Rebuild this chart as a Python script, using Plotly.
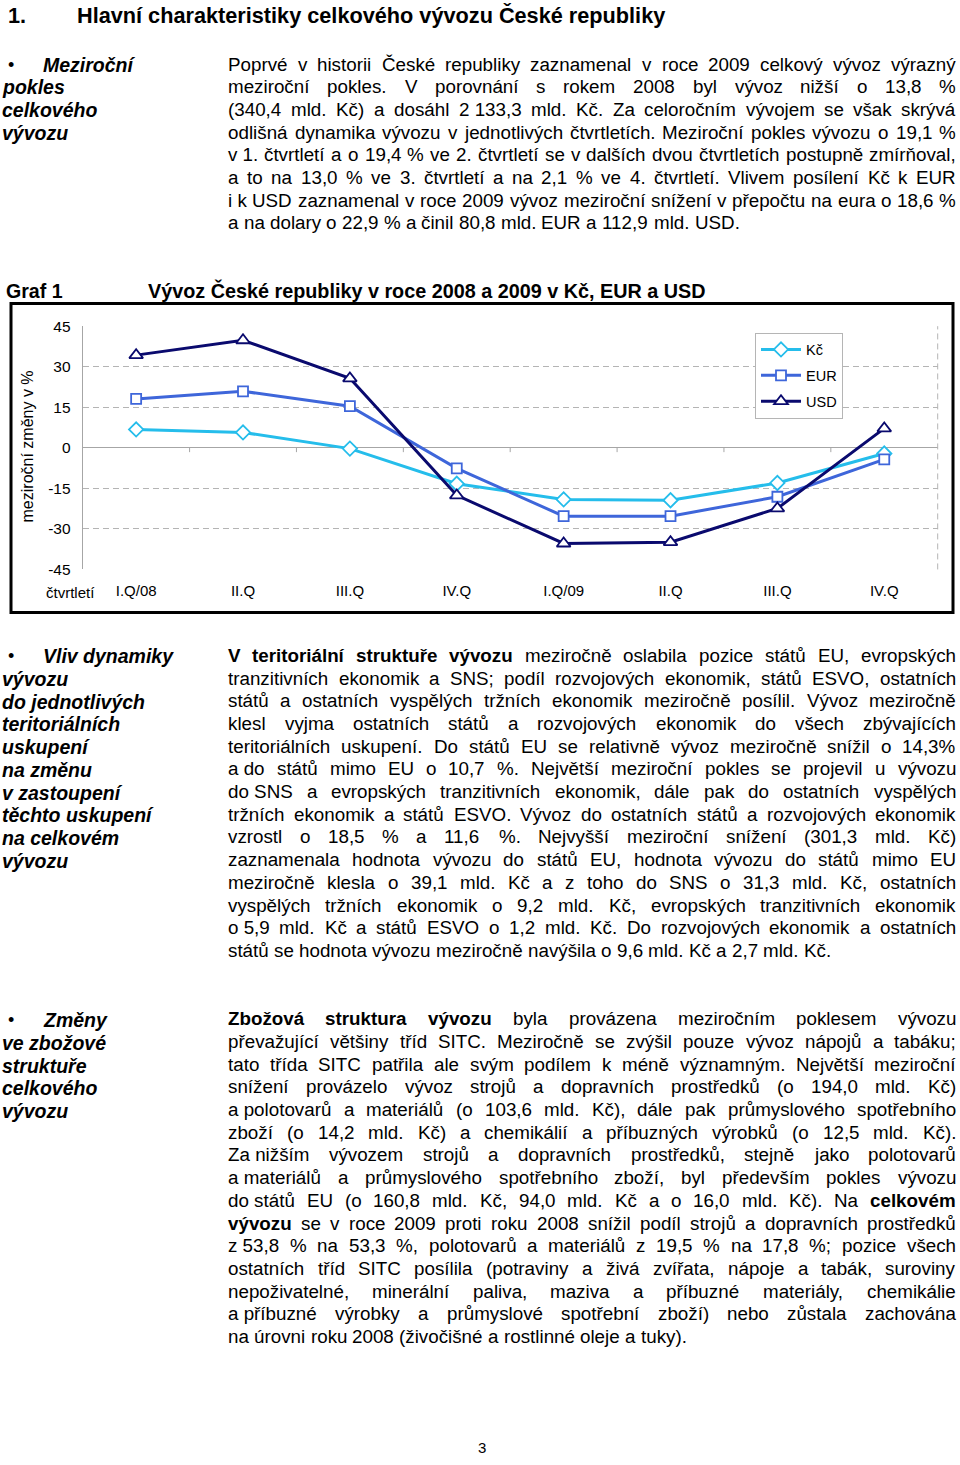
import plotly.graph_objects as go

# ---------------- chart data ----------------
quarters = ["I.Q/08", "II.Q", "III.Q", "IV.Q", "I.Q/09", "II.Q", "III.Q", "IV.Q"]
kc_change = [6.8, 5.7, -0.3, -13.3, -19.1, -19.4, -13.0, -2.1]
eur_change = [18.1, 20.9, 15.4, -7.6, -25.3, -25.3, -18.1, -4.3]
usd_change = [34.3, 39.8, 25.7, -17.6, -35.4, -34.9, -22.4, 7.2]
series_names = ["Kč", "EUR", "USD"]
y_ticks = [-45, -30, -15, 0, 15, 30, 45]
y_tick_labels = ["-45", "-30", "-15", "0", "15", "30", "45"]

# ---------------- page text ----------------
heading_num = "1."
heading_text = "Hlavní charakteristiky celkového vývozu České republiky"
chart_label = "Graf 1"
chart_title = "Vývoz České republiky v roce 2008 a 2009 v Kč, EUR a USD"
y_title = "meziroční změny v %"
x_title = "čtvrtletí"
page_number = "3"

NB = "\u00a0"
side1 = ["Meziroční", "pokles", "celkového", "vývozu"]
para1 = [
    "Poprvé v historii České republiky zaznamenal v roce 2009 celkový vývoz výrazný",
    "meziroční pokles. V porovnání s rokem 2008 byl vývoz nižší o 13,8 %",
    "(340,4 mld. Kč) a dosáhl 2" + NB + "133,3 mld. Kč. Za celoročním vývojem se však skrývá",
    "odlišná dynamika vývozu v jednotlivých čtvrtletích. Meziroční pokles vývozu o 19,1 %",
    "v" + NB + "1. čtvrtletí a o 19,4 % ve 2. čtvrtletí se v dalších dvou čtvrtletích postupně zmírňoval,",
    "a to na 13,0 % ve 3. čtvrtletí a na 2,1 % ve 4. čtvrtletí. Vlivem posílení Kč k EUR",
    "i" + NB + "k USD zaznamenal v roce 2009 vývoz meziroční snížení v přepočtu na eura o 18,6 %",
    "a na dolary o 22,9 % a činil 80,8 mld. EUR a 112,9 mld. USD.",
]
side2 = ["Vliv dynamiky", "vývozu", "do jednotlivých", "teritoriálních", "uskupení",
         "na změnu", "v zastoupení", "těchto uskupení", "na celkovém", "vývozu"]
para2 = [
    "**V teritoriální struktuře vývozu** meziročně oslabila pozice států EU, evropských",
    "tranzitivních ekonomik a SNS; podíl rozvojových ekonomik, států ESVO, ostatních",
    "států a ostatních vyspělých tržních ekonomik meziročně posílil. Vývoz meziročně",
    "klesl vyjma ostatních států a rozvojových ekonomik do všech zbývajících",
    "teritoriálních uskupení. Do států EU se relativně vývoz meziročně snížil o 14,3%",
    "a" + NB + "do států mimo EU o 10,7 %. Největší meziroční pokles se projevil u vývozu",
    "do" + NB + "SNS a evropských tranzitivních ekonomik, dále pak do ostatních vyspělých",
    "tržních ekonomik a států ESVO. Vývoz do ostatních států a rozvojových ekonomik",
    "vzrostl o 18,5 % a 11,6 %. Nejvyšší meziroční snížení (301,3 mld. Kč)",
    "zaznamenala hodnota vývozu do států EU, hodnota vývozu do států mimo EU",
    "meziročně klesla o 39,1 mld. Kč a z toho do SNS o 31,3 mld. Kč, ostatních",
    "vyspělých tržních ekonomik o 9,2 mld. Kč, evropských tranzitivních ekonomik",
    "o" + NB + "5,9 mld. Kč a států ESVO o 1,2 mld. Kč. Do rozvojových ekonomik a ostatních",
    "států se hodnota vývozu meziročně navýšila o 9,6 mld. Kč a 2,7 mld. Kč.",
]
side3 = ["Změny", "ve zbožové", "struktuře", "celkového", "vývozu"]
para3 = [
    "**Zbožová struktura vývozu** byla provázena meziročním poklesem vývozu",
    "převažující většiny tříd SITC. Meziročně se zvýšil pouze vývoz nápojů a tabáku;",
    "tato třída SITC patřila ale svým podílem k méně významným. Největší meziroční",
    "snížení provázelo vývoz strojů a dopravních prostředků (o 194,0 mld. Kč)",
    "a" + NB + "polotovarů a materiálů (o 103,6 mld. Kč), dále pak průmyslového spotřebního",
    "zboží (o 14,2 mld. Kč) a chemikálií a příbuzných výrobků (o 12,5 mld. Kč).",
    "Za" + NB + "nižším vývozem strojů a dopravních prostředků, stejně jako polotovarů",
    "a" + NB + "materiálů a průmyslového spotřebního zboží, byl především pokles vývozu",
    "do" + NB + "států EU (o 160,8 mld. Kč, 94,0 mld. Kč a o 16,0 mld. Kč). Na **celkovém**",
    "**vývozu** se v roce 2009 proti roku 2008 snížil podíl strojů a dopravních prostředků",
    "z" + NB + "53,8 % na 53,3 %, polotovarů a materiálů z 19,5 % na 17,8 %; pozice všech",
    "ostatních tříd SITC posílila (potraviny a živá zvířata, nápoje a tabák, suroviny",
    "nepoživatelné, minerální paliva, maziva a příbuzné materiály, chemikálie",
    "a" + NB + "příbuzné výrobky a průmyslové spotřební zboží) nebo zůstala zachována",
    "na úrovni roku 2008 (živočišné a rostlinné oleje a tuky).",
]

# ---------------- helpers ----------------
W, H = 960, 1465
# vertical calibration of the captured page (measured empirically)
V_OFF, V_SCALE = 8.4, 0.9887
FONT = "Liberation Sans, Arial, Helvetica, sans-serif"


def X(px):
    return px / W


def Y(py):
    return 1 - ((py - V_OFF) / V_SCALE) / H


REG = {' ': 278, NB: 278, '%': 889, '(': 333, ')': 333, ',': 278, '-': 333, '.': 278,
       '/': 278, ':': 278, ';': 278,
       'A': 667, 'B': 667, 'C': 722, 'D': 722, 'E': 667, 'F': 611, 'G': 778, 'H': 722,
       'I': 278, 'J': 500, 'K': 667, 'L': 556, 'M': 833, 'N': 722, 'O': 778, 'P': 667,
       'Q': 778, 'R': 722, 'S': 667, 'T': 611, 'U': 722, 'V': 667, 'W': 944, 'X': 667,
       'Y': 667, 'Z': 611,
       'a': 556, 'b': 556, 'c': 500, 'd': 556, 'e': 556, 'f': 278, 'g': 556, 'h': 556,
       'i': 222, 'j': 222, 'k': 500, 'l': 222, 'm': 833, 'n': 556, 'o': 556, 'p': 556,
       'q': 556, 'r': 333, 's': 500, 't': 278, 'u': 556, 'v': 500, 'w': 722, 'x': 500,
       'y': 500, 'z': 500}
BOLD = {' ': 278, NB: 278, '%': 889, '(': 333, ')': 333, ',': 278, '-': 333, '.': 278,
        '/': 278, ':': 333, ';': 333,
        'A': 722, 'B': 722, 'C': 722, 'D': 722, 'E': 667, 'F': 611, 'G': 778, 'H': 722,
        'I': 278, 'J': 556, 'K': 722, 'L': 611, 'M': 833, 'N': 722, 'O': 778, 'P': 667,
        'Q': 778, 'R': 722, 'S': 667, 'T': 611, 'U': 722, 'V': 667, 'W': 944, 'X': 667,
        'Y': 667, 'Z': 611,
        'a': 556, 'b': 611, 'c': 556, 'd': 611, 'e': 556, 'f': 333, 'g': 611, 'h': 611,
        'i': 278, 'j': 278, 'k': 556, 'l': 278, 'm': 889, 'n': 611, 'o': 611, 'p': 611,
        'q': 611, 'r': 389, 's': 556, 't': 333, 'u': 611, 'v': 556, 'w': 778, 'x': 556,
        'y': 556, 'z': 500}
for d in "0123456789":
    REG[d] = 556
    BOLD[d] = 556
BASE = {'á': 'a', 'é': 'e', 'ě': 'e', 'ó': 'o', 'ú': 'u', 'ů': 'u', 'ý': 'y', 'č': 'c',
        'ň': 'n', 'ř': 'r', 'š': 's', 'ž': 'z', 'ť': 't', 'ď': 'd', 'Č': 'C', 'Š': 'S',
        'Ž': 'Z', 'Ř': 'R', 'É': 'E', 'Ý': 'Y'}


def text_width(s, bold, size):
    table = BOLD if bold else REG
    tot = 0
    for ch in s:
        if ch == 'í':
            tot += 278
        elif ch in table:
            tot += table[ch]
        elif ch in BASE:
            tot += table[BASE[ch]]
        else:
            tot += 556
    return tot * size / 1000.0


annotations = []


def ann(text, px, py, size, xanchor="left", bold=False, italic=False, angle=0, yanchor="middle"):
    t = text
    if italic:
        t = "<i>" + t + "</i>"
    if bold:
        t = "<b>" + t + "</b>"
    annotations.append(dict(text=t, x=X(px), y=Y(py), xref="paper", yref="paper",
                            xanchor=xanchor, yanchor=yanchor, showarrow=False,
                            textangle=angle, borderpad=0, borderwidth=0,
                            font=dict(family=FONT, size=size, color="black")))


BODY = 18.8
LEFT, RIGHT = 228, 956
LINE = 22.7


def paragraph(lines, y0):
    for li, line in enumerate(lines):
        words = []
        parts = line.split("**")
        for pi, part in enumerate(parts):
            for w in part.split(" "):
                if w:
                    words.append((w, pi % 2 == 1))
        widths = [text_width(w, b, BODY) for w, b in words]
        last = li == len(lines) - 1
        if last or len(words) == 1:
            gap = text_width(" ", False, BODY)
        else:
            gap = (RIGHT - LEFT - sum(widths)) / (len(words) - 1)
        py = y0 + li * LINE
        x = LEFT
        for wi, ((w, b), wd) in enumerate(zip(words, widths)):
            if (not last) and wi == len(words) - 1 and len(words) > 1:
                ann(w, RIGHT, py, BODY, xanchor="right", bold=b)
            else:
                ann(w, x, py, BODY, bold=b)
            x += wd + gap


def side(lines, y0):
    SIDE = 19.5
    ann("•", 8, y0, 18)
    for li, line in enumerate(lines):
        px = 43 if li == 0 else 2
        ann(line, px, y0 + li * LINE, SIDE, bold=True, italic=True)


# heading
ann(heading_num, 8, 15, 21.7, bold=True)
ann(heading_text, 77, 15, 21.7, bold=True)

side(side1, 64)
paragraph(para1, 63.5)
side(side2, 656)
paragraph(para2, 655)
side(side3, 1020)
paragraph(para3, 1018.5)

# chart titles
ann(chart_label, 6, 290, 19.6, bold=True)
ann(chart_title, 148, 290, 19.8, bold=True)
ann(y_title, 27, 446, 16, xanchor="center", angle=-90)
ann(x_title, 46, 592, 15)
ann(page_number, 482, 1447, 15, xanchor="center")

# ---------------- chart ----------------
fig = go.Figure()
xs = list(range(len(quarters)))
styles = [
    dict(color="#25BDEB", symbol="diamond", size=11),
    dict(color="#3E66DA", symbol="square", size=10),
    dict(color="#0A0A6E", symbol="triangle-up", size=12),
]
for name, vals, st in zip(series_names, [kc_change, eur_change, usd_change], styles):
    fig.add_trace(go.Scatter(
        x=xs, y=vals, name=name, mode="lines+markers", legendgroup=name,
        line=dict(color=st["color"], width=3),
        marker=dict(symbol=st["symbol"], size=st["size"], color="white",
                    line=dict(color=st["color"], width=1.8)),
    ))

shapes = []
# small tick marks on the zero line at category boundaries
for i in range(len(quarters) - 1):
    shapes.append(dict(type="line", xref="x", yref="y", x0=i + 0.5, x1=i + 0.5,
                       y0=0, y1=-1.6, line=dict(color="#A6A6A6", width=1)))
# dashed right edge of plot area
shapes.append(dict(type="line", xref="x domain", yref="y domain", x0=1, x1=1, y0=0, y1=1,
                   line=dict(color="#B4B4B4", width=1, dash="6px,4px")))
# outer chart frame
shapes.append(dict(type="rect", xref="paper", yref="paper", x0=X(11), x1=X(953),
                   y0=Y(612), y1=Y(303), line=dict(color="black", width=3)))

fig.update_layout(
    width=W, height=H, autosize=False,
    margin=dict(l=0, r=0, t=0, b=0),
    paper_bgcolor="white", plot_bgcolor="white",
    font=dict(family=FONT, size=15, color="black"),
    xaxis=dict(domain=[X(82.7), X(937.7)], range=[-0.5, 7.5], tickvals=xs,
               ticktext=quarters, showgrid=False, zeroline=False, showline=False,
               ticks="outside", ticklen=8, tickcolor="rgba(0,0,0,0)",
               tickfont=dict(family=FONT, size=15, color="black"), fixedrange=True),
    yaxis=dict(domain=[Y(569), Y(325.7)], range=[-45, 45], tickvals=y_ticks,
               ticktext=y_tick_labels, showgrid=True, gridcolor="#B4B4B4",
               griddash="6px,4px", gridwidth=1, zeroline=True, zerolinecolor="#A6A6A6",
               zerolinewidth=1, showline=True, linecolor="#A6A6A6", linewidth=1,
               ticks="outside", ticklen=8, tickcolor="rgba(0,0,0,0)",
               tickfont=dict(family=FONT, size=15.5, color="black"), fixedrange=True),
    legend=dict(x=X(755), y=Y(332), xanchor="left", yanchor="top", bgcolor="white",
                bordercolor="#B5B5B5", borderwidth=1, itemwidth=40, tracegroupgap=4,
                font=dict(family=FONT, size=14.5, color="black")),
    showlegend=True,
    annotations=annotations,
    shapes=shapes,
)

fig.write_html("out.html", config={"displayModeBar": False},
               post_script="document.body.style.margin='0px';document.body.style.padding='0px';")
